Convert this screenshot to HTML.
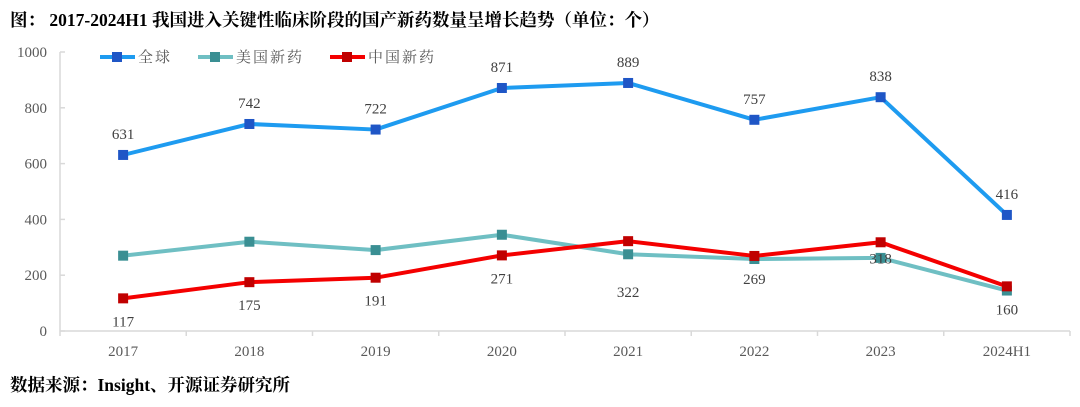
<!DOCTYPE html>
<html><head><meta charset="utf-8">
<style>
body{margin:0;background:#fff;width:1080px;height:407px;overflow:hidden;font-family:"Liberation Serif","Noto Serif CJK SC",serif;}
#title{position:absolute;left:10px;top:7px;font-size:17.5px;font-weight:bold;color:#000;white-space:nowrap;}
#source{position:absolute;left:10px;top:372px;font-size:17.5px;font-weight:bold;color:#000;white-space:nowrap;}
svg{position:absolute;left:0;top:0;}
</style></head><body>
<div id="title">图： 2017-2024H1 我国进入关键性临床阶段的国产新药数量呈增长趋势（单位：个）</div>
<div id="source">数据来源：Insight、开源证券研究所</div>
<svg id="chart" width="1080" height="407"></svg>
<script>
const categories=["2017","2018","2019","2020","2021","2022","2023","2024H1"];
const globalVals=[631,742,722,871,889,757,838,416];
const usVals=[270,320,290,345,275,258,262,145];
const chinaVals=[117,175,191,271,322,269,318,160];
const yTicks=[0,200,400,600,800,1000];
const NS="http://www.w3.org/2000/svg";
const svg=document.getElementById('chart');
const x0=60,x1=1070,yb=331,yt=52,ymax=1000;
const step=(x1-x0)/categories.length;
const xs=i=>x0+step*(i+0.5);
const ys=v=>yb-(v/ymax)*(yb-yt);
function mk(t,a,p){const e=document.createElementNS(NS,t);for(const k in a)e.setAttribute(k,a[k]);(p||svg).appendChild(e);return e;}
let ax=mk('line',{x1:x0,y1:yb,x2:x1,y2:yb,stroke:'#d9d9d9','stroke-width':1.5});


let ay=mk('line',{x1:x0,y1:yt,x2:x0,y2:yb,stroke:'#d9d9d9','stroke-width':1.5});


for(let i=0;i<=categories.length;i++){let t=mk('line',{x1:x0+step*i,y1:yb,x2:x0+step*i,y2:yb+5,stroke:'#d9d9d9','stroke-width':1.5});

}
yTicks.forEach(v=>{let t=mk('text',{x:47,y:ys(v)+5,'text-anchor':'end','font-size':15,fill:'#595959'});t.textContent=v;


let tk=mk('line',{x1:x0,y1:ys(v),x2:x0+5,y2:ys(v),stroke:'#d9d9d9','stroke-width':1.5});

});
categories.forEach((c,i)=>{let t=mk('text',{x:xs(i),y:356,'text-anchor':'middle','font-size':15,fill:'#595959'});t.textContent=c;

});
function series(vals,line,mark,name,labels,lblOff){
  const g=mk('g',{});
  
  
  mk('polyline',{points:vals.map((v,i)=>xs(i)+','+ys(v)).join(' '),fill:'none',stroke:line,'stroke-width':4,'stroke-linejoin':'round'},g);
  vals.forEach((v,i)=>{let r=mk('rect',{x:xs(i)-5,y:ys(v)-5,width:10,height:10,fill:mark},g);
    
    
    if(labels){const off=typeof lblOff==='function'?lblOff(i):lblOff;
    let t=mk('text',{x:xs(i),y:ys(v)+off,'text-anchor':'middle','font-size':15,fill:'#404040'},g);t.textContent=v;
    
    }
  });
}
series(usVals,'#6fbfc3','#3a8f93','us',false,0);
series(globalVals,'#1e9bf0','#1f56c6','global',true,-16);
series(chinaVals,'#f40000','#c00000','china',true,i=>i===4?56:(i===6?21:28));
const legend=[['全球','#1e9bf0','#1f56c6',100],['美国新药','#6fbfc3','#3a8f93',198],['中国新药','#f40000','#c00000',330]];
legend.forEach(l=>{const g=mk('g',{});


mk('line',{x1:l[3],y1:57,x2:l[3]+35,y2:57,stroke:l[1],'stroke-width':4},g);
mk('rect',{x:l[3]+12,y:52,width:10,height:10,fill:l[2]},g);
let t=mk('text',{x:l[3]+38,y:62,'font-size':15,fill:'#595959','letter-spacing':2},g);t.textContent=l[0];});
</script>
</body></html>
